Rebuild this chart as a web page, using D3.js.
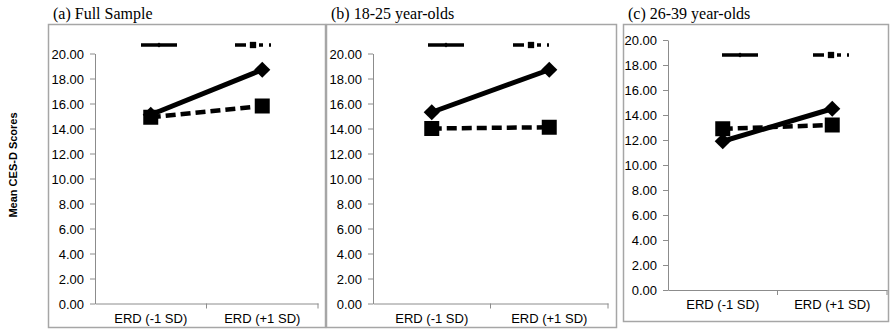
<!DOCTYPE html>
<html>
<head>
<meta charset="utf-8">
<script src="https://cdn.jsdelivr.net/npm/d3@7"></script>
<style>
  body { margin: 0; background: #fff; }
  svg { display: block; }
</style>
</head>
<body>
<svg id="chart" width="890" height="329"></svg>
<script>
var categories = ["ERD (-1 SD)", "ERD (+1 SD)"];
var panelTitles = ["(a) Full Sample", "(b) 18-25 year-olds", "(c) 26-39 year-olds"];
var yTickValues = [0, 2, 4, 6, 8, 10, 12, 14, 16, 18, 20];

// solid line, diamond markers
var solidValues = [[15.1, 18.7], [15.3, 18.7], [11.9, 14.5]];
// dashed line, square markers
var dashedValues = [[14.9, 15.8], [14.0, 14.1], [12.9, 13.2]];

// frame + axis geometry for each panel
var panels = [
  { fx: 48, fy: 24, fw: 278, fh: 304, left: 95, right: 318, y0: 303.5, y20: 53.5, legY: 45, legA: 159, legB: 253 },
  { fx: 326, fy: 24, fw: 291, fh: 304, left: 373, right: 608, y0: 303.5, y20: 53.5, legY: 45, legA: 446, legB: 531 },
  { fx: 623, fy: 24, fw: 266, fh: 298, left: 668, right: 887, y0: 290, y20: 40, legY: 55, legA: 740, legB: 831 }
];

var svg = d3.select("#chart");

var diamond = d3.symbol().type(d3.symbolSquare);
var square = d3.symbol().type(d3.symbolSquare);

panels.forEach(function(p, i) {
  var g = svg.append("g");

  g.append("rect")
    .attr("x", p.fx + 0.5).attr("y", p.fy + 0.5)
    .attr("width", p.fw - 1).attr("height", p.fh - 1)
    .attr("fill", "none").attr("stroke", "#a6a6a6").attr("stroke-width", 1.5);

  g.append("text")
    .attr("x", p.fx + 5).attr("y", 19)
    .attr("font-family", "Liberation Serif, Times New Roman, serif")
    .attr("font-size", 16)
    .text(panelTitles[i]);

  var x = d3.scaleBand().domain(categories).range([p.left, p.right]);
  var y = d3.scaleLinear().domain([0, 20]).range([p.y0, p.y20]);

  var yAxis = d3.axisLeft(y).tickValues(yTickValues).tickFormat(d3.format(".2f")).tickSize(5).tickSizeOuter(0);
  var ya = g.append("g").attr("transform", "translate(" + p.left + ",0)").call(yAxis);
  ya.select(".domain").attr("stroke", "#8c8c8c");
  ya.selectAll(".tick line").attr("stroke", "#8c8c8c");
  ya.selectAll(".tick text").attr("x", -11).attr("dy", "0.35em");

  var xAxis = d3.axisBottom(x).tickSize(0).tickSizeOuter(0);
  var xa = g.append("g").attr("transform", "translate(0," + p.y0 + ")").call(xAxis);
  xa.select(".domain").attr("stroke", "#8c8c8c");
  xa.selectAll(".tick text").attr("y", 10).attr("dy", "0.71em");
  // category separators
  xa.selectAll(".sep").data(categories).enter().append("line")
    .attr("x1", function(d) { return x(d) + x.bandwidth(); })
    .attr("x2", function(d) { return x(d) + x.bandwidth(); })
    .attr("y1", 0).attr("y2", 5).attr("stroke", "#8c8c8c");

  [ya, xa].forEach(function(a) {
    a.attr("font-size", null).attr("font-family", null);
    a.selectAll(".tick text")
      .style("font-family", "Liberation Sans, Arial, sans-serif")
      .style("font-size", "13px")
      .attr("fill", "#000");
  });

  var cx = function(d, j) { return x(categories[j]) + x.bandwidth() / 2; };
  var line = d3.line().x(cx).y(function(d) { return y(d); });

  g.append("path").datum(dashedValues[i])
    .attr("d", line).attr("fill", "none").attr("stroke", "#000")
    .attr("stroke-width", 4.5).attr("stroke-dasharray", "10,5");
  g.append("path").datum(solidValues[i])
    .attr("d", line).attr("fill", "none").attr("stroke", "#000")
    .attr("stroke-width", 5);

  g.selectAll(".sq").data(dashedValues[i]).enter().append("path")
    .attr("d", square.size(225))
    .attr("transform", function(d, j) { return "translate(" + cx(d, j) + "," + y(d) + ")"; });
  g.selectAll(".dm").data(solidValues[i]).enter().append("path")
    .attr("d", diamond.size(130))
    .attr("transform", function(d, j) { return "translate(" + cx(d, j) + "," + y(d) + ") rotate(45)"; });

  // legend (no labels in the original)
  g.append("line")
    .attr("x1", p.legA - 18).attr("x2", p.legA + 18).attr("y1", p.legY).attr("y2", p.legY)
    .attr("stroke", "#000").attr("stroke-width", 3.5);
  g.append("path").attr("d", diamond.size(12)).attr("transform", "translate(" + p.legA + "," + p.legY + ") rotate(45)");
  g.append("line")
    .attr("x1", p.legB - 18).attr("x2", p.legB + 18).attr("y1", p.legY).attr("y2", p.legY)
    .attr("stroke", "#000").attr("stroke-width", 3.5).attr("stroke-dasharray", "11,5,3,5,4,6");
  g.append("path").attr("d", square.size(40)).attr("transform", "translate(" + p.legB + "," + p.legY + ")");
});

svg.append("text")
  .attr("transform", "translate(17,165) rotate(-90)")
  .attr("text-anchor", "middle")
  .attr("font-family", "Liberation Sans, Arial, sans-serif")
  .attr("font-weight", "bold")
  .attr("font-size", 11)
  .text("Mean CES-D Scores");
</script>
</body>
</html>
